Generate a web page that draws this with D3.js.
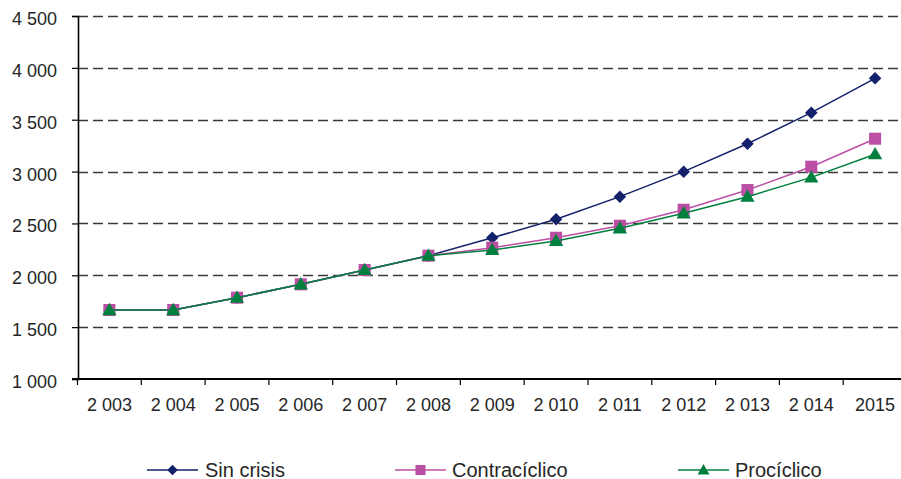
<!DOCTYPE html>
<html>
<head>
<meta charset="utf-8">
<script src="https://cdn.jsdelivr.net/npm/d3@7/dist/d3.min.js"></script>
<style>
  html, body { margin: 0; padding: 0; background: #fff; }
  svg { display: block; font-family: "Liberation Sans", Arial, sans-serif; }
</style>
</head>
<body>
<svg id="chart" width="901" height="479"></svg>
<script>
// Years on the horizontal axis and their printed labels
const years = ["2003","2004","2005","2006","2007","2008","2009","2010","2011","2012","2013","2014","2015"];
const yearLabels = ["2 003","2 004","2 005","2 006","2 007","2 008","2 009","2 010","2 011","2 012","2 013","2 014","2015"];

// Series values
const sinCrisis     = [1665, 1665, 1784, 1913, 2051, 2189, 2362, 2540, 2758, 2999, 3268, 3568, 3899];
const contraciclico = [1665, 1665, 1784, 1913, 2051, 2189, 2266, 2362, 2478, 2632, 2822, 3047, 3317];
const prociclico    = [1665, 1665, 1784, 1913, 2051, 2189, 2244, 2331, 2453, 2598, 2758, 2944, 3167];

// Value axis ticks
const yTicks = [1000, 1500, 2000, 2500, 3000, 3500, 4000, 4500];

const seriesNames = ["Sin crisis", "Contracíclico", "Procíclico"];

const series = [
  { name: seriesNames[0], values: sinCrisis,     color: "#13206a", symbol: d3.symbolDiamond2, size: 100 },
  { name: seriesNames[1], values: contraciclico, color: "#bb4fa3", symbol: d3.symbolSquare,   size: 145 },
  { name: seriesNames[2], values: prociclico,    color: "#00803f", symbol: d3.symbolTriangle, size: 88 }
];

const svg = d3.select("#chart");
const textColor = "#262626";
const font = "'Liberation Sans', Arial, sans-serif";

const x = d3.scaleBand().domain(years).range([77.5, 907]).paddingInner(0).paddingOuter(0);
const y = d3.scaleLinear().domain([1000, 4500]).range([379, 16]);

const fmt = d3.formatLocale({ decimal: ",", thousands: " ", grouping: [3] }).format(",");

// Dashed horizontal gridlines
svg.append("g")
  .selectAll("line")
  .data(yTicks.filter(d => d > 1000))
  .join("line")
  .attr("x1", 78).attr("x2", 901)
  .attr("y1", d => Math.round(y(d)) + 0.5)
  .attr("y2", d => Math.round(y(d)) + 0.5)
  .attr("stroke", "#3a3a3a")
  .attr("stroke-width", 1.4)
  .attr("stroke-dasharray", "10,5");

// Y axis
const yAxis = svg.append("g")
  .attr("transform", "translate(78,0)")
  .call(d3.axisLeft(y).tickValues(yTicks).tickFormat(fmt).tickSize(6).tickPadding(15));
yAxis.select(".domain").attr("stroke", "#000").attr("stroke-width", 1.6);
yAxis.selectAll(".tick line").attr("stroke", "#000").attr("stroke-width", 1.2);
yAxis.selectAll(".tick text")
  .attr("fill", textColor)
  .attr("dy", null)
  .attr("y", 8.5)
  .style("font-size", "18px")
  .style("font-family", font);

// X axis: labels centred in each band, ticks on band boundaries
const xAxis = svg.append("g")
  .attr("transform", "translate(0,379)")
  .call(d3.axisBottom(x)
    .tickSize(0)
    .tickFormat((d, i) => yearLabels[i]));
xAxis.select(".domain").attr("stroke", "#000").attr("stroke-width", 1.8).attr("d", "M72,0H901");
xAxis.selectAll(".tick text")
  .attr("fill", textColor)
  .attr("dy", null)
  .attr("y", 31.5)
  .style("font-size", "18px")
  .style("font-family", font);

const boundaries = years.map(d => x(d));
svg.append("g")
  .selectAll("line")
  .data(boundaries)
  .join("line")
  .attr("x1", d => d).attr("x2", d => d)
  .attr("y1", 379).attr("y2", 385)
  .attr("stroke", "#000")
  .attr("stroke-width", 1.2);

// Series lines and markers
const cx = (d, i) => x(years[i]) + x.bandwidth() / 2;
const line = d3.line().x(cx).y(d => y(d));

series.forEach(s => {
  const g = svg.append("g");
  g.append("path")
    .datum(s.values)
    .attr("fill", "none")
    .attr("stroke", s.color)
    .attr("stroke-width", 1.5)
    .attr("d", line);
  g.selectAll("path.m")
    .data(s.values)
    .join("path")
    .attr("class", "m")
    .attr("transform", (d, i) => `translate(${cx(d, i)},${y(d) + (s.symbol === d3.symbolTriangle ? 1 : 0)})`)
    .attr("d", d3.symbol(s.symbol, s.size))
    .attr("fill", s.color);
});

// Legend
const legendItems = [
  { x0: 147, x1: 198, tx: 205 },
  { x0: 395, x1: 446, tx: 452 },
  { x0: 678, x1: 729, tx: 735 }
];
const legend = svg.append("g");
series.forEach((s, i) => {
  const L = legendItems[i];
  const ly = 470;
  legend.append("line")
    .attr("x1", L.x0).attr("x2", L.x1)
    .attr("y1", ly).attr("y2", ly)
    .attr("stroke", s.color).attr("stroke-width", 1.5);
  legend.append("path")
    .attr("transform", `translate(${(L.x0 + L.x1) / 2},${ly + (s.symbol === d3.symbolTriangle ? 1 : 0)})`)
    .attr("d", d3.symbol(s.symbol, s.size * 0.7))
    .attr("fill", s.color);
  legend.append("text")
    .attr("x", L.tx).attr("y", 476.5)
    .attr("fill", textColor)
    .style("font-size", "20px")
    .style("font-family", font)
    .text(s.name);
});
</script>
</body>
</html>
